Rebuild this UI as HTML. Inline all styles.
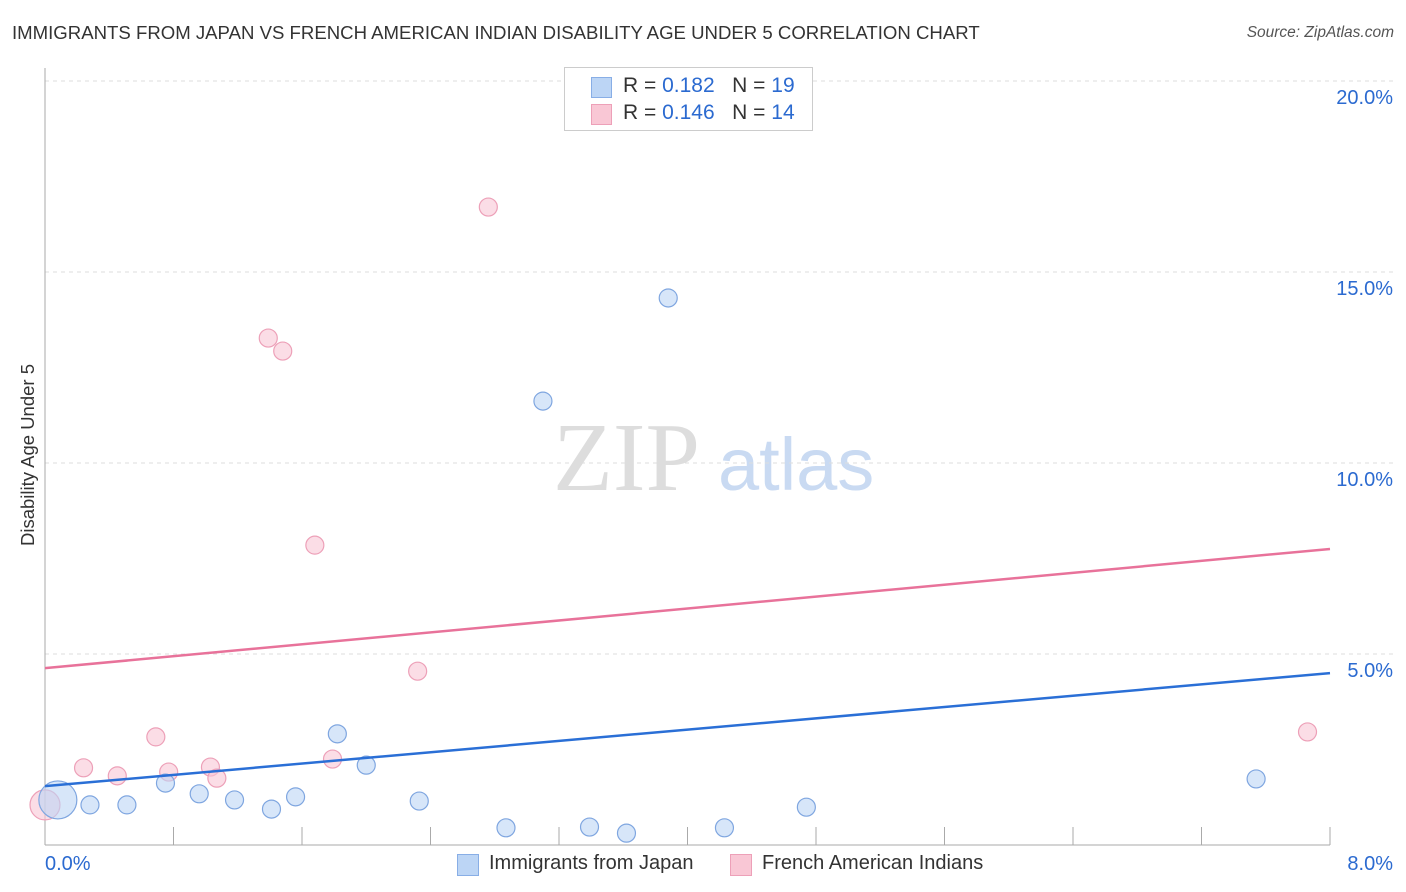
<!DOCTYPE html>
<html><head><meta charset="utf-8"><style>
body{margin:0;background:#fff;font-family:"Liberation Sans",sans-serif;}
#wrap{position:relative;width:1406px;height:892px;overflow:hidden}
.t{position:absolute;white-space:nowrap}
</style></head><body>
<div id="wrap">
<div class="t" style="left:12px;top:22px;font-size:18.6px;color:#333">IMMIGRANTS FROM JAPAN VS FRENCH AMERICAN INDIAN DISABILITY AGE UNDER 5 CORRELATION CHART</div>
<div class="t" style="right:12px;top:24px;font-size:15.5px;color:#555;font-style:italic">Source: ZipAtlas.com</div>
<svg id="svg" width="1406" height="892" style="position:absolute;left:0;top:0">
<text x="553" y="490" font-family="Liberation Serif" font-size="98" fill="#ddd">ZIP</text>
<text x="718" y="490" font-family="Liberation Sans" font-size="74" fill="#c9daf2">atlas</text>
<text transform="translate(34,455) rotate(-90)" text-anchor="middle" font-size="18.5" fill="#333">Disability Age Under 5</text>
</svg>
<div style="position:absolute;left:564px;top:67px;width:247px;height:62px;border:1px solid #ccc;background:#fff;font-size:21px;color:#333">
<div style="position:absolute;left:26px;top:9px;width:19px;height:19px;background:#bcd5f5;border:1px solid #88aee6"></div>
<div class="t" style="left:58px;top:6px">R = <span style="color:#2b6ad0">0.182</span>&nbsp;&nbsp;&nbsp;N = <span style="color:#2b6ad0">19</span></div>
<div style="position:absolute;left:26px;top:36px;width:19px;height:19px;background:#f9c7d5;border:1px solid #eda0b8"></div>
<div class="t" style="left:58px;top:33px">R = <span style="color:#2b6ad0">0.146</span>&nbsp;&nbsp;&nbsp;N = <span style="color:#2b6ad0">14</span></div>
</div>
<div style="position:absolute;left:457px;top:852px;font-size:20px;color:#333">
<div style="position:absolute;left:0;top:2px;width:20px;height:20px;background:#bcd5f5;border:1px solid #88aee6"></div>
<div class="t" style="left:32px;top:0">Immigrants from Japan</div>
<div style="position:absolute;left:273px;top:2px;width:20px;height:20px;background:#f9c7d5;border:1px solid #eda0b8"></div>
<div class="t" style="left:305px;top:0">French American Indians</div>
</div>
</div>
<script>
const blueX=[0.08,0.28,0.51,0.75,0.96,1.18,1.41,1.56,1.82,2.00,2.33,2.87,3.39,3.62,4.23,4.74,3.10,3.88,7.54];
const blueY=[1.18,1.05,1.05,1.62,1.34,1.18,0.94,1.26,2.91,2.09,1.15,0.45,0.47,0.31,0.45,0.99,11.62,14.32,1.73];
const pinkX=[0,0.24,0.45,0.69,0.77,1.03,1.07,1.39,1.48,1.68,1.79,2.32,2.76,7.86];
const pinkY=[1.05,2.02,1.81,2.83,1.91,2.04,1.75,13.27,12.93,7.85,2.25,4.55,16.70,2.96];
const blueTrend=[1.54,4.50];
const pinkTrend=[4.63,7.75];
const yTicks=[5,10,15,20];
const yTickLabels=["5.0%","10.0%","15.0%","20.0%"];
const xTickLabels=["0.0%","8.0%"];
const NS="http://www.w3.org/2000/svg";
const svg=document.getElementById('svg');
const X=v=>45+v*(1285/8);
const Y=v=>845-v*38.2;
function mk(tag,attrs){const e=document.createElementNS(NS,tag);for(const k in attrs)e.setAttribute(k,attrs[k]);svg.appendChild(e);return e;}
yTicks.forEach((t,i)=>{
 const g=mk('line',{x1:45,x2:1395,y1:Y(t),y2:Y(t),stroke:'#ddd','stroke-dasharray':'4,4'});
 
 
 const l=mk('text',{x:1393,y:Y(t)+23,'text-anchor':'end','font-size':20,fill:'#2b6ad0'});
 l.textContent=yTickLabels[i];
 
 
});
const ax=mk('line',{x1:45,x2:1330,y1:845,y2:845,stroke:'#aaa'});


const ay=mk('line',{x1:45,x2:45,y1:68,y2:845,stroke:'#aaa'});


for(let i=1;i<=10;i++){const tk=mk('line',{x1:X(i*0.8),x2:X(i*0.8),y1:827,y2:845,stroke:'#aaa'});
 
 }
[[0,'start',45],[8,'end',1393]].forEach((d,i)=>{const t=mk('text',{x:d[2],y:870,'text-anchor':d[1],'font-size':20,fill:'#2b6ad0'});t.textContent=xTickLabels[i];
 
 });
function pts(xs,ys,fill,stroke,name,bigR){xs.forEach((x,i)=>{const c=mk('circle',{cx:X(x),cy:Y(ys[i]),r:i===0?bigR:9,fill:fill,'fill-opacity':0.6,stroke:stroke,'stroke-width':1.2});
 
 });}
pts(pinkX,pinkY,'#f9c7d5','#eda0b8','point-french',15);
pts(blueX,blueY,'#bcd5f5','#7fa6e0','point-japan',19);
const lb=mk('line',{x1:X(0),x2:X(8),y1:Y(blueTrend[0]),y2:Y(blueTrend[1]),stroke:'#2a6fd6','stroke-width':2.5});


const lp=mk('line',{x1:X(0),x2:X(8),y1:Y(pinkTrend[0]),y2:Y(pinkTrend[1]),stroke:'#e8729a','stroke-width':2.5});


</script>
</body></html>
